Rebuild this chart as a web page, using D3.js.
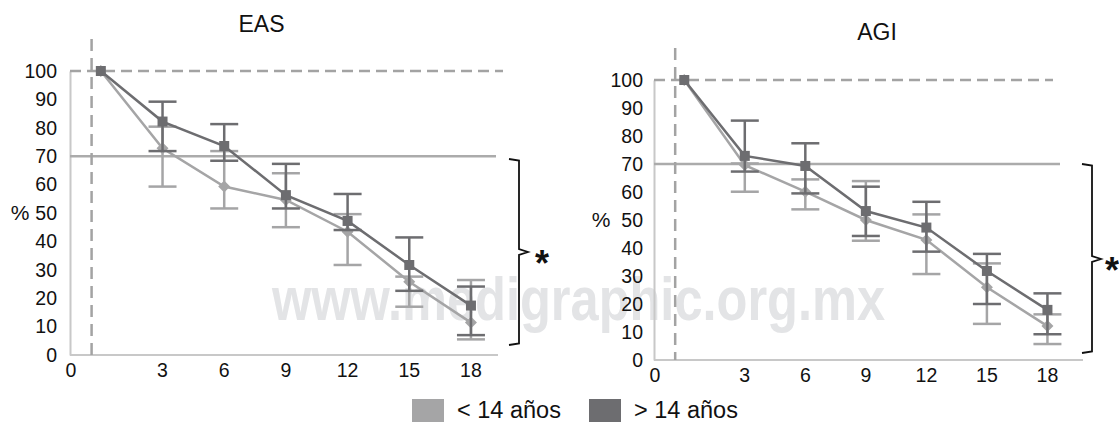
<!DOCTYPE html>
<html><head><meta charset="utf-8">
<script src="https://cdn.jsdelivr.net/npm/d3@7"></script>
<style>body{margin:0;background:#fff}svg{display:block;font-family:"Liberation Sans",Arial,Helvetica,sans-serif}</style>
</head><body><svg id="c" width="1119" height="423"></svg>
<script>
// ---- data ----
const months = [0, 3, 6, 9, 12, 15, 18];
const xTickLabels = ["0", "3", "6", "9", "12", "15", "18"];
const yTicks = [0, 10, 20, 30, 40, 50, 60, 70, 80, 90, 100];
const seriesNames = ["< 14 años", "> 14 años"];
const panelTitles = ["EAS", "AGI"];
const thresholdValue = 70;
const baselineValue = 100;

// EAS  (< 14 años)
const easLow   = [100, 72.8, 59.3, 54.6, 43.4, 25.8, 11.4];
const easLowHi = [null, 80.4, 71.8, 64.0, 49.6, 27.6, 26.4];
const easLowLo = [null, 59.3, 51.6, 45.0, 31.7, 17.0, 5.5];
// EAS  (> 14 años)
const easHigh   = [100, 82.2, 73.6, 56.3, 47.2, 31.7, 17.4];
const easHighHi = [null, 89.2, 81.3, 67.3, 56.7, 41.4, 24.1];
const easHighLo = [null, 71.8, 68.4, 51.6, 44.0, 22.6, 7.0];
// AGI  (< 14 años)
const agiLow   = [100, 69.6, 60.1, 50.0, 42.9, 26.0, 12.1];
const agiLowHi = [null, 70.2, 64.5, 63.9, 52.0, 34.5, 16.3];
const agiLowLo = [null, 60.1, 53.8, 42.6, 30.7, 12.9, 5.7];
// AGI  (> 14 años)
const agiHigh   = [100, 72.9, 69.3, 53.2, 47.3, 31.8, 17.9];
const agiHighHi = [null, 85.5, 77.4, 61.9, 56.5, 37.9, 23.8];
const agiHighLo = [null, 67.3, 59.5, 44.3, 38.7, 20.0, 9.2];

// ---- styles ----
const colLight = "#a5a5a6", colDark = "#6d6d70";
const colAxis = "#c8c8c8", colRef = "#ababab", colDash = "#a3a3a3";
const tickFont = 19.5;

const svg = d3.select("#c");

// watermark
svg.append("text").attr("x", 272).attr("y", 320)
  .attr("font-size", 62).attr("font-weight", "bold").attr("fill", "#e3e4e6")
  .attr("textLength", 613).attr("lengthAdjust", "spacingAndGlyphs")
  .text("www.medigraphic.org.mx");

const panels = [
  { title: panelTitles[0], low: [easLow, easLowHi, easLowLo], high: [easHigh, easHighHi, easHighLo],
    x0: 70, x1: 501.8, axisEnd: 498, yTop: 71, yBot: 355, titleX: 261.5, titleY: 32,
    dashTop: 39, dashEnd: 503, refEnd: 496, pctX: 20, lblPad: 13,
    brace: { x: 519, top: 159, bot: 345, mid: 252, ast: 23 } },
  { title: panelTitles[1], low: [agiLow, agiLowHi, agiLowLo], high: [agiHigh, agiHighHi, agiHighLo],
    x0: 654, x1: 1077.7, axisEnd: 1083, yTop: 80, yBot: 360, titleX: 877, titleY: 40,
    dashTop: 48, dashEnd: 1053, refEnd: 1060, pctX: 601, lblPad: 11,
    brace: { x: 1092, top: 164, bot: 353, mid: 259, ast: 20 } }
];

panels.forEach(p => {
  const x = d3.scaleBand().domain(months).range([p.x0, p.x1]).padding(0);
  const cx = m => x(m) + x.bandwidth() / 2;
  const y = d3.scaleLinear().domain([0, 100]).range([p.yBot, p.yTop]);
  const g = svg.append("g");

  // title
  g.append("text").attr("x", p.titleX).attr("y", p.titleY).attr("text-anchor", "middle")
    .attr("font-size", 23).attr("fill", "#111").text(p.title);

  // x axis line
  g.append("line").attr("x1", p.x0).attr("x2", p.axisEnd).attr("y1", y(0)).attr("y2", y(0))
    .attr("stroke", colAxis).attr("stroke-width", 2);

  // y axis
  const ya = g.append("g").attr("transform", `translate(${p.x0},0)`)
    .call(d3.axisLeft(y).tickValues(yTicks).tickSize(0).tickSizeOuter(0).tickPadding(p.lblPad));
  ya.select(".domain").attr("stroke", colAxis).attr("stroke-width", 2);
  ya.selectAll("text").attr("font-size", tickFont).attr("fill", "#111").attr("font-family", null);

  // x axis labels
  const xa = g.append("g").attr("transform", `translate(0,${y(0)})`)
    .call(d3.axisBottom(x).tickSize(0).tickPadding(8).tickFormat((d, i) => xTickLabels[i]));
  xa.select(".domain").remove();
  xa.selectAll("text").attr("font-size", tickFont).attr("fill", "#111").attr("font-family", null);
  xa.selectAll(".tick").filter(d => d === months[0]).attr("transform", `translate(${p.x0 + 1},0)`);

  // % label
  g.append("text").attr("x", p.pctX).attr("y", y(50)).attr("dy", "0.35em").attr("text-anchor", "middle")
    .attr("font-size", 21).attr("fill", "#111").text("%");

  // reference lines
  g.append("line").attr("x1", p.x0).attr("x2", p.refEnd).attr("y1", y(thresholdValue)).attr("y2", y(thresholdValue))
    .attr("stroke", colRef).attr("stroke-width", 2.5);
  g.append("line").attr("x1", p.x0).attr("x2", p.dashEnd).attr("y1", y(baselineValue)).attr("y2", y(baselineValue))
    .attr("stroke", colDash).attr("stroke-width", 2.5).attr("stroke-dasharray", "11,6");
  const vx = p.x0 + x.bandwidth() * 0.35;
  g.append("line").attr("x1", vx).attr("x2", vx).attr("y1", p.dashTop).attr("y2", y(0))
    .attr("stroke", colDash).attr("stroke-width", 2.5).attr("stroke-dasharray", "12,7");

  // series
  const drawSeries = (arr, col, marker) => {
    const [vals, hi, lo] = arr;
    const sg = g.append("g");
    months.forEach((m, i) => {
      if (hi[i] == null) return;
      const xc = cx(m);
      sg.append("line").attr("x1", xc).attr("x2", xc).attr("y1", y(hi[i])).attr("y2", y(lo[i]))
        .attr("stroke", col).attr("stroke-width", 2.5);
      [hi[i], lo[i]].forEach(v => sg.append("line").attr("x1", xc - 14).attr("x2", xc + 14)
        .attr("y1", y(v)).attr("y2", y(v)).attr("stroke", col).attr("stroke-width", 2.5));
    });
    sg.append("path").datum(vals)
      .attr("d", d3.line().x((d, i) => cx(months[i])).y(d => y(d)))
      .attr("fill", "none").attr("stroke", col).attr("stroke-width", 2.5);
    sg.selectAll(".mk").data(vals).enter().append("path")
      .attr("transform", (d, i) => `translate(${cx(months[i])},${y(d)})`)
      .attr("d", marker === "square" ? d3.symbol(d3.symbolSquare, 100)() : "M0,-6L6,0L0,6L-6,0Z")
      .attr("fill", col);
  };
  drawSeries(p.low, colLight, "diamond");
  drawSeries(p.high, colDark, "square");

  // brace + asterisk
  const b = p.brace;
  g.append("path")
    .attr("d", `M${b.x - 10},${b.top} L${b.x},${b.top + 1.5} L${b.x},${b.mid - 3} L${b.x + 9},${b.mid} L${b.x},${b.mid + 3} L${b.x},${b.bot - 1.5} L${b.x - 10},${b.bot}`)
    .attr("fill", "none").attr("stroke", "#111").attr("stroke-width", 1.8);
  g.append("text").attr("x", b.x + b.ast).attr("y", b.mid + 24).attr("text-anchor", "middle")
    .attr("font-size", 36).attr("font-weight", "bold").attr("fill", "#111").text("*");
});

// legend
const legend = svg.append("g");
const legX = [412, 589];
[colLight, colDark].forEach((c, i) => {
  legend.append("rect").attr("x", legX[i]).attr("y", 399).attr("width", 32).attr("height", 23).attr("fill", c);
  legend.append("text").attr("x", legX[i] + 45).attr("y", 410).attr("dy", "0.35em")
    .attr("font-size", 23.5).attr("fill", "#111").text(seriesNames[i]);
});
</script></body></html>
